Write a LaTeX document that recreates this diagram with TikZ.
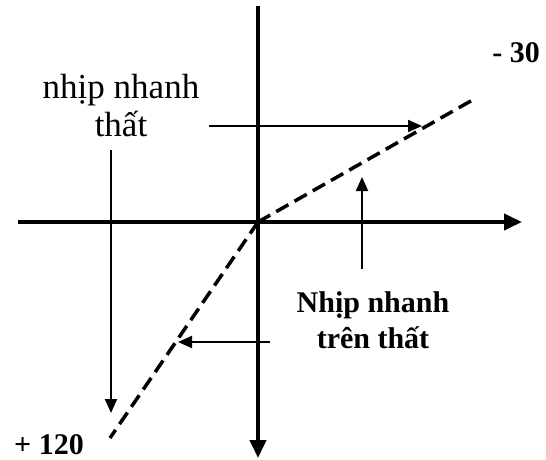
\documentclass[tikz,border=0pt]{standalone}
\usepackage{fontspec}
\setmainfont{Liberation Serif}
\usetikzlibrary{arrows.meta}
\tikzset{
  axis/.style={line width=4pt,-{Triangle[length=18pt,width=16pt]}},
  thinarrow/.style={line width=2pt,-{Triangle[length=14pt,width=12pt]}},
  curve/.style={line width=3.5pt,dash pattern=on 14pt off 7pt},
  plain/.style={font=\fontsize{35}{38}\selectfont,inner sep=0pt,anchor=base},
  boldlbl/.style={font=\fontsize{30}{36}\selectfont\bfseries,inner sep=0pt,anchor=base},
}
\begin{document}
\begin{tikzpicture}[x=1pt,y=-1pt]
\useasboundingbox (0,0) rectangle (546,460);
% axes
\coordinate (O) at (258,222);
\coordinate (ytop) at (258,6);
\coordinate (ybot) at (258,458);
\coordinate (xl) at (18,222);
\coordinate (xr) at (522,222);
\draw[axis] (ytop) -- (ybot);
\draw[axis] (xl) -- (xr);
% dashed curve
\coordinate (ue) at (476,98);
\coordinate (le) at (110,438);
\draw[curve] (O) -- (ue);
\draw[curve] (O) -- (le);
% labels
\node[plain] (l1) at (121,98) {nhịp nhanh};
\node[plain] (l2) at (121,136) {thất};
\node[boldlbl] (b1) at (373,312) {Nhịp nhanh};
\node[boldlbl] (b2) at (373,348) {trên thất};
\node[boldlbl,anchor=base east] (m30) at (540,63) {- 30};
\node[boldlbl,anchor=base west] (p120) at (14,454) {+ 120};
% thin arrows
\coordinate (a1s) at (209,126);
\coordinate (a1e) at (422,126);
\draw[thinarrow] (a1s) -- (a1e);
\coordinate (a2s) at (111,150);
\coordinate (a2e) at (111,413);
\draw[thinarrow] (a2s) -- (a2e);
\coordinate (a3s) at (362,269);
\coordinate (a3e) at (362,177);
\draw[thinarrow] (a3s) -- (a3e);
\coordinate (a4s) at (270,342);
\coordinate (a4e) at (178,342);
\draw[thinarrow] (a4s) -- (a4e);
\end{tikzpicture}
\end{document}
